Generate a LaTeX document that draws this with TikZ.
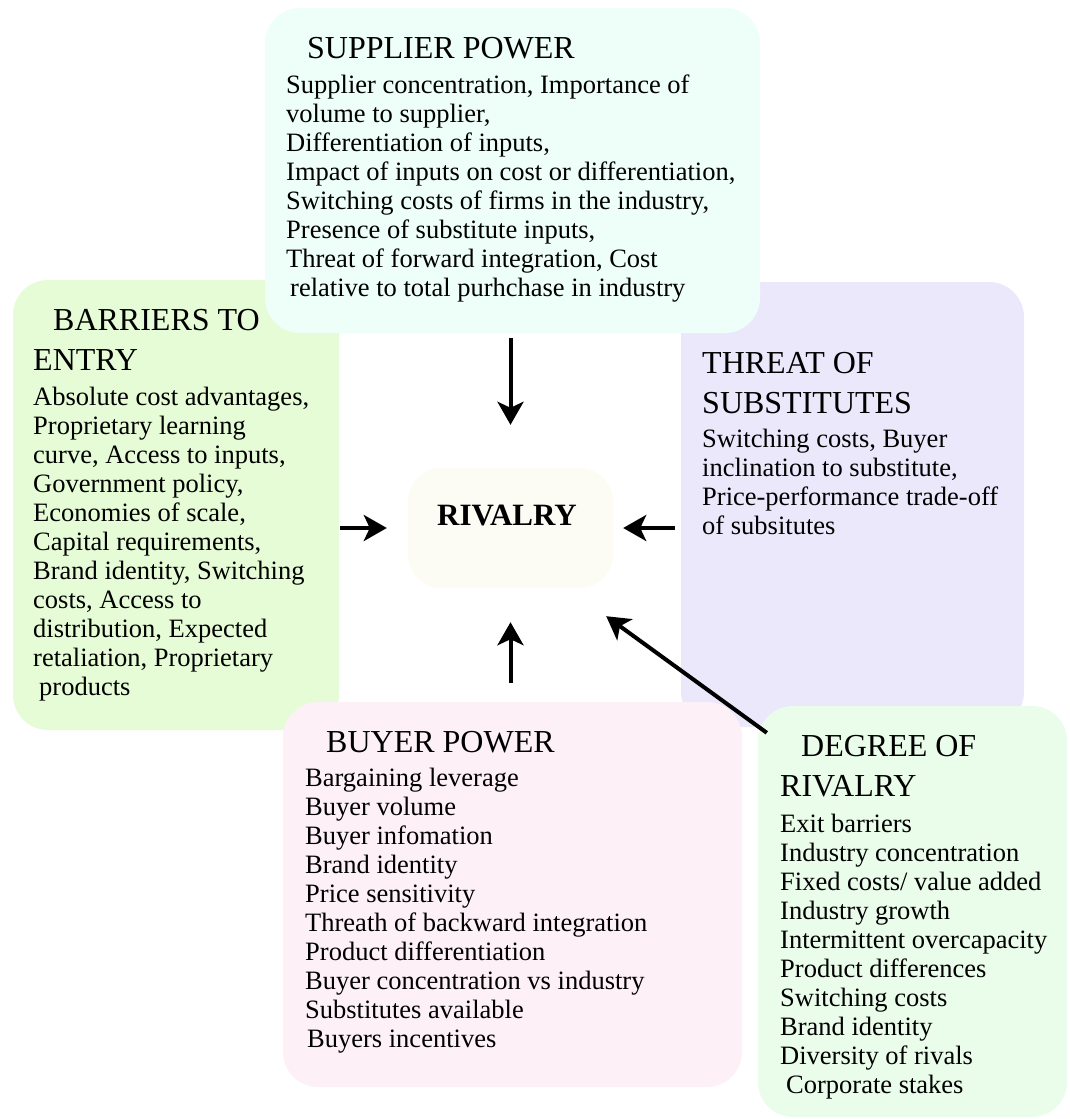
\documentclass[tikz,border=0pt]{standalone}
\usepackage{fontspec}
\setmainfont{Liberation Serif}
\usetikzlibrary{arrows.meta}
\definecolor{supfill}{RGB}{238,254,248}
\definecolor{barfill}{RGB}{229,252,214}
\definecolor{thrfill}{RGB}{236,232,252}
\definecolor{buyfill}{RGB}{253,240,246}
\definecolor{degfill}{RGB}{234,252,234}
\definecolor{rivfill}{RGB}{252,251,244}

\begin{document}
\begin{tikzpicture}[x=1pt,y=-1pt,
    box/.style={rectangle, rounded corners=35pt, inner sep=0pt},
    head/.style={anchor=base west, inner sep=0pt, align=left, font=\fontsize{32}{40}\selectfont},
    body/.style={anchor=base west, inner sep=0pt, align=left, font=\fontsize{26.5}{29}\selectfont},
    arr/.style={line width=4pt, -{Stealth[length=23pt,width=26pt,inset=6pt]}}]
	\useasboundingbox (0,0) rectangle (1069,1119);
	\node[box, fill=barfill, minimum width=326pt, minimum height=450pt] (bar) at (176,505) {};
	\node[box, fill=thrfill, minimum width=343pt, minimum height=445pt] (thr) at (852.5,504.5) {};
	\node[box, fill=supfill, minimum width=495pt, minimum height=325pt] (sup) at (512.5,170.5) {};
	\node[box, fill=buyfill, minimum width=459pt, minimum height=385pt] (buy) at (512.5,894.5) {};
	\node[box, fill=degfill, minimum width=309pt, minimum height=411pt] (deg) at (912.5,911.5) {};
	\node[box, fill=rivfill, minimum width=205pt, minimum height=120pt, rounded corners=33pt] (riv) at (510.5,528) {};

	% text nodes sit on the baseline of their last line
	\node[head] (supT) at (307,58) {SUPPLIER POWER};
	\node[body] (supB) at (286,296) {Supplier concentration, Importance of\\volume to supplier,\\Differentiation of inputs,\\Impact of inputs on cost or differentiation,\\Switching costs of firms in the industry,\\Presence of substitute inputs,\\Threat of forward integration, Cost\\\hspace*{4pt}relative to total purhchase in industry};
	\node[head] (barT) at (33,370) {\hspace*{20pt}BARRIERS TO\\ENTRY};
	\node[body] (barB) at (33,695) {Absolute cost advantages,\\Proprietary learning\\curve, Access to inputs,\\Government policy,\\Economies of scale,\\Capital requirements,\\Brand identity, Switching\\costs, Access to\\distribution, Expected\\retaliation, Proprietary\\\hspace*{6pt}products};
	\node[head] (thrT) at (702,413) {THREAT OF\\SUBSTITUTES};
	\node[body] (thrB) at (702,534) {Switching costs, Buyer\\inclination to substitute,\\Price-performance trade-off\\of subsitutes};
	\node[head] (buyT) at (326,752) {BUYER POWER};
	\node[body] (buyB) at (305,1047) {Bargaining leverage\\Buyer volume\\Buyer infomation\\Brand identity\\Price sensitivity\\Threath of backward integration\\Product differentiation\\Buyer concentration vs industry\\Substitutes available\\\hspace*{2pt}Buyers incentives};
	\node[head] (degT) at (780,796) {\hspace*{21pt}DEGREE OF\\RIVALRY};
	\node[body] (degB) at (780,1093) {Exit barriers\\Industry concentration\\Fixed costs/ value added\\Industry growth\\Intermittent overcapacity\\Product differences\\Switching costs\\Brand identity\\Diversity of rivals\\\hspace*{6pt}Corporate stakes};
	\node[anchor=base, inner sep=0pt, font=\bfseries\fontsize{31}{36}\selectfont] (rivT) at (507,525) {RIVALRY};

	\draw[arr, shorten <=5pt, shorten >=43pt] (riv.north |- sup.south) -- (riv.north);
	\draw[arr, shorten <=1pt, shorten >=21pt] (riv.west -| bar.east) -- (riv.west);
	\draw[arr, shorten <=6pt, shorten >=10pt] (riv.east -| thr.west) -- (riv.east);
	\draw[arr, shorten <=19pt, shorten >=34pt] (riv.south |- buy.north) -- (riv.south);
	\draw[arr] ([shift={(9,27)}]deg.north west) -- ([shift={(-7,28)}]riv.south east);
\end{tikzpicture}
\end{document}
